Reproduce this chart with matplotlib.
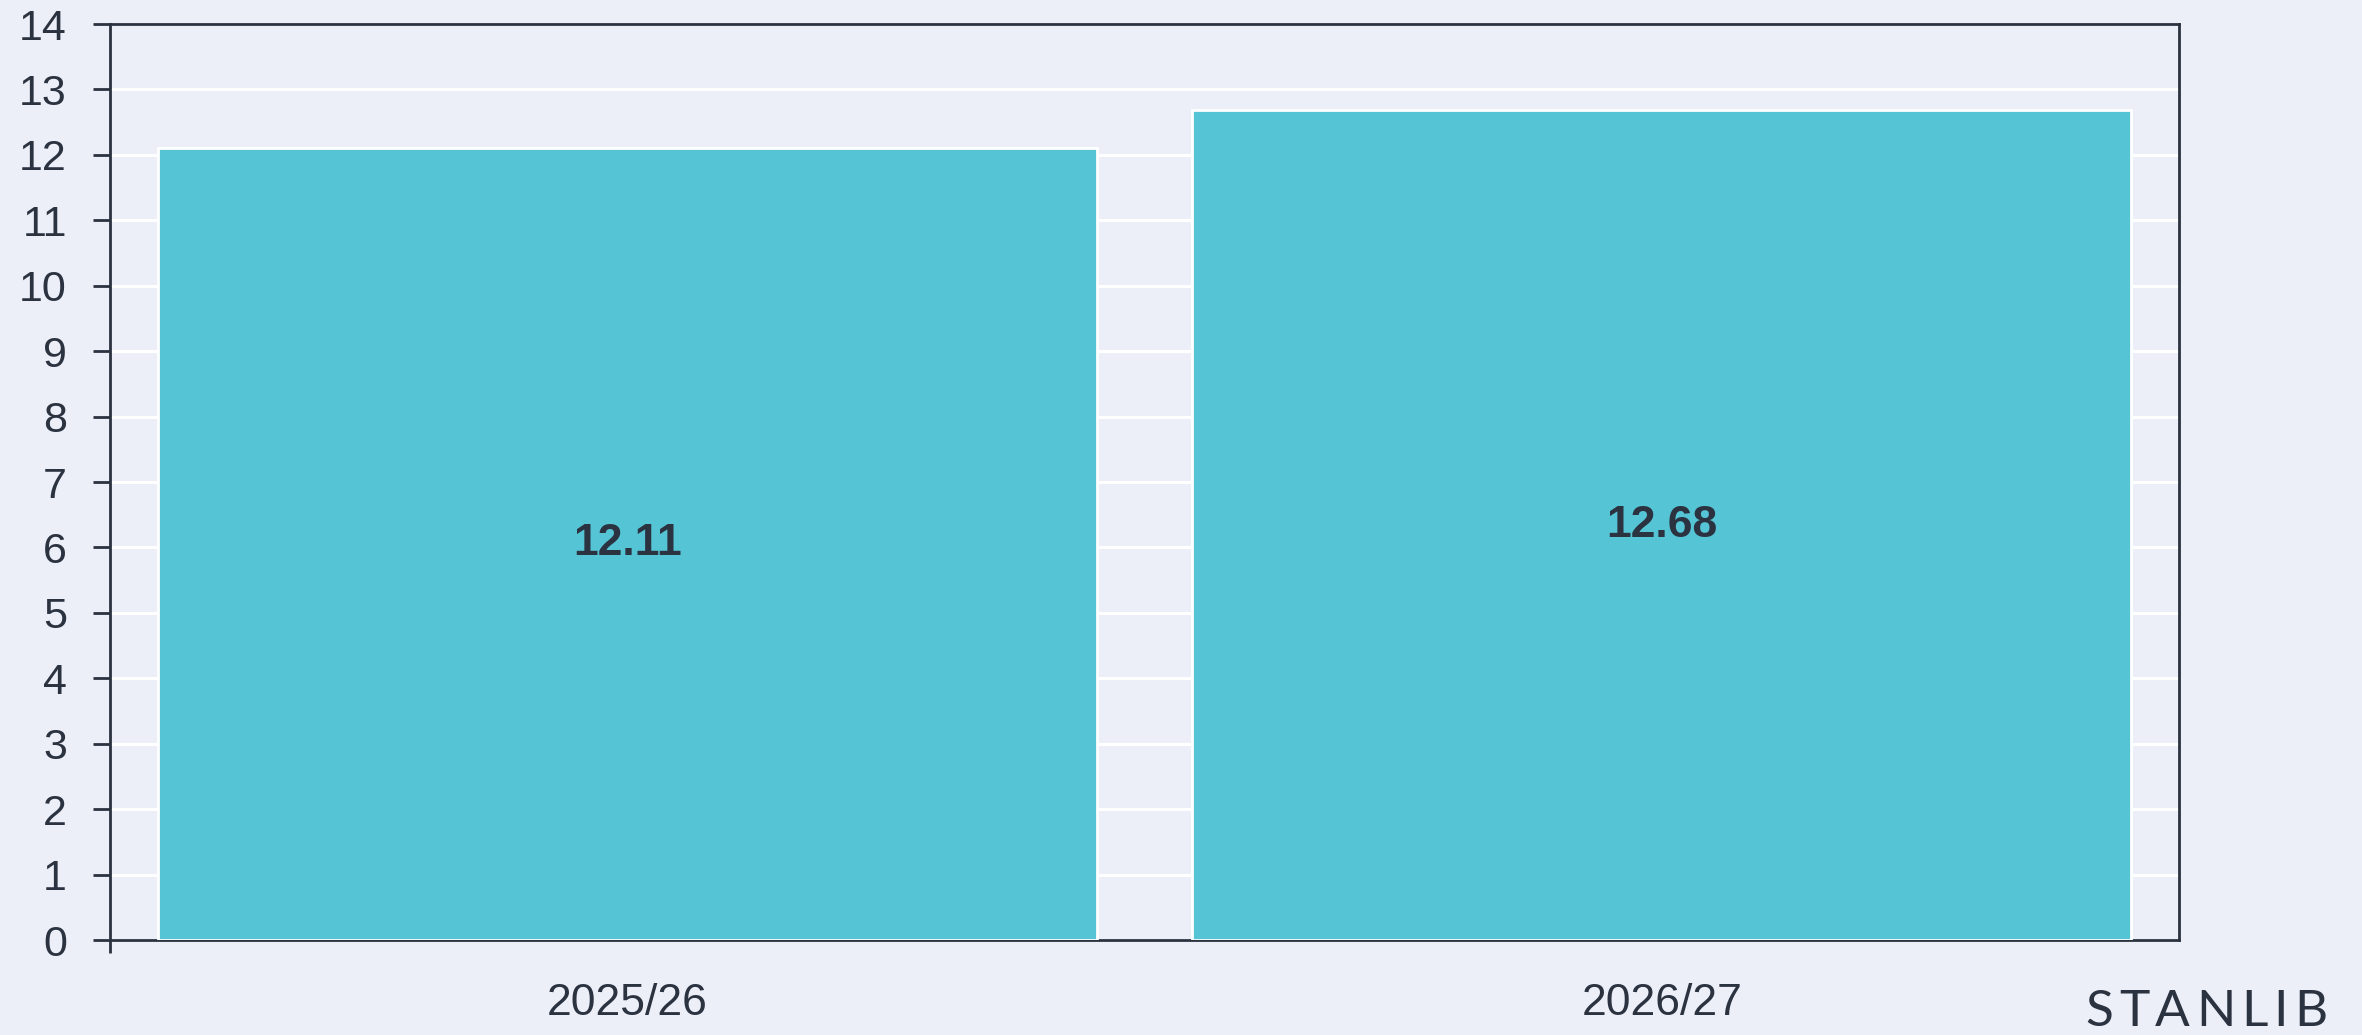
import matplotlib
matplotlib.use("Agg")
import matplotlib.pyplot as plt

categories = ["2025/26", "2026/27"]
values = [12.11, 12.68]
yticks = list(range(0, 15))

BG = "#eceff8"
BAR = "#55c5d6"
DARK = "#2b3240"

plt.rcParams['font.family'] = ['Liberation Sans', 'DejaVu Sans']

fig = plt.figure(figsize=(23.62, 10.35), dpi=100)
fig.patch.set_facecolor(BG)
ax = fig.add_axes([110/2362, 1 - 940/1035, (2179-110)/2362, (940-24)/1035])
ax.set_facecolor(BG)

x = list(range(len(categories)))
ax.bar(x, values, width=0.908, color=BAR, edgecolor="white", linewidth=2, zorder=3)
for xi, v in zip(x, values):
    ax.text(xi, v / 2, f"{v:.2f}", ha="center", va="center", fontsize=32,
            fontweight="bold", color=DARK, zorder=4)

ax.set_xlim(-0.5, 1.5)
ax.set_ylim(0, 14)
ax.set_yticks(yticks)
ax.set_yticklabels([str(t) for t in yticks])
ax.yaxis.grid(True, color="white", linewidth=2.2, zorder=1)
ax.set_axisbelow(True)

# major x tick at left edge only, labels on minor ticks at category centers
ax.set_xticks([-0.5])
ax.set_xticklabels([""])
ax.set_xticks(x, minor=True)
ax.set_xticklabels(categories, minor=True)
ax.tick_params(axis="x", which="major", length=9, width=2, color=DARK, direction="out")
ax.tick_params(axis="x", which="minor", length=0, pad=31, labelsize=32, labelcolor=DARK)
ax.tick_params(axis="y", length=12, width=2, color=DARK, pad=19, labelsize=31, labelcolor=DARK)

for s in ax.spines.values():
    s.set_color(DARK)
    s.set_linewidth(2)

# STANLIB wordmark, letter-spaced
fig.canvas.draw()
renderer = fig.canvas.get_renderer()
word = "STANLIB"
spacing_px = 6
xpos = 2085
yc = 1 - 1012/1035
for ch in word:
    t = fig.text(xpos/2362, yc, ch, ha="left", va="center", fontsize=37,
                 color=DARK, family=["Lato", "DejaVu Sans"])
    bb = t.get_window_extent(renderer)
    xpos += bb.width + spacing_px

fig.savefig("out.png", dpi=100, facecolor=BG)
